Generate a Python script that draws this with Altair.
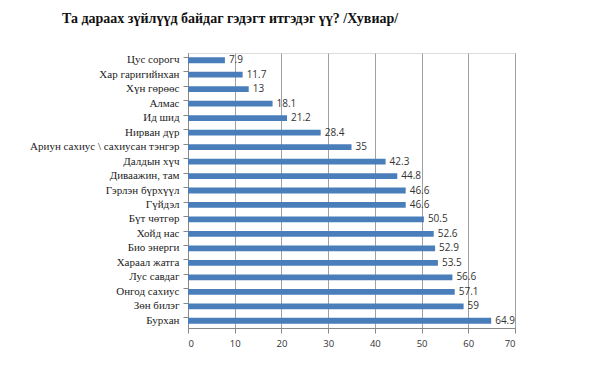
import altair as alt
import pandas as pd

categories = [
    "Цус сорогч", "Хар гаригийнхан", "Хүн гөрөөс", "Алмас", "Ид шид",
    "Нирван дүр", "Ариун сахиус \\ сахиусан тэнгэр", "Далдын хүч",
    "Диваажин, там", "Гэрлэн бүрхүүл", "Гүйдэл", "Бүт чөтгөр", "Хойд нас",
    "Био энерги", "Хараал жатга", "Лус савдаг", "Онгод сахиус", "Зөн билэг",
    "Бурхан",
]
values = [7.9, 11.7, 13, 18.1, 21.2, 28.4, 35, 42.3, 44.8, 46.6, 46.6,
          50.5, 52.6, 52.9, 53.5, 56.6, 57.1, 59, 64.9]
x_ticks = [0, 10, 20, 30, 40, 50, 60, 70]

df = pd.DataFrame({"cat": categories, "val": values})
df["lbl"] = [("%g" % v) for v in values]

y_enc = alt.Y("cat:N", sort=categories, title=None,
              scale=alt.Scale(paddingInner=0.6, paddingOuter=0.3),
              axis=alt.Axis(labelFont="Liberation Serif", labelFontSize=11,
                            labelColor="#222222", labelPadding=4,
                            domainColor="#888888", tickColor="#888888",
                            tickSize=5, bandPosition=0, grid=False))
x_enc = alt.X("val:Q", title=None,
              scale=alt.Scale(domain=[0, 70], nice=False),
              axis=alt.Axis(values=x_ticks, labelFont="Open Sans",
                            labelFontSize=9.5, labelColor="#333333",
                            labelPadding=5, grid=True, gridColor="#a0a0a0",
                            domainColor="#888888", tickColor="#888888",
                            tickSize=5))

bars = alt.Chart(df).mark_bar(color="#4a7ebb").encode(x=x_enc, y=y_enc)
text = alt.Chart(df).mark_text(align="left", dx=4, font="Open Sans",
                               fontSize=10, color="#333333").encode(
    x="val:Q", y=alt.Y("cat:N", sort=categories), text="lbl:N")

chart = (bars + text).properties(
    width=327, height=275,
    autosize=alt.AutoSizeParams(type="none"),
    padding={"left": 180, "top": 45, "right": 10, "bottom": 40},
    title=alt.TitleParams(
        "Та дараах зүйлүүд байдаг гэдэгт итгэдэг үү? /Хувиар/",
        font="Liberation Serif", fontSize=14, fontWeight="bold",
        color="#111111", anchor="start", frame="group", dx=-126, offset=27),
).configure_view(stroke=None).configure(background="white")

chart.save("out.html", embed_options={"renderer": "svg", "actions": False})
